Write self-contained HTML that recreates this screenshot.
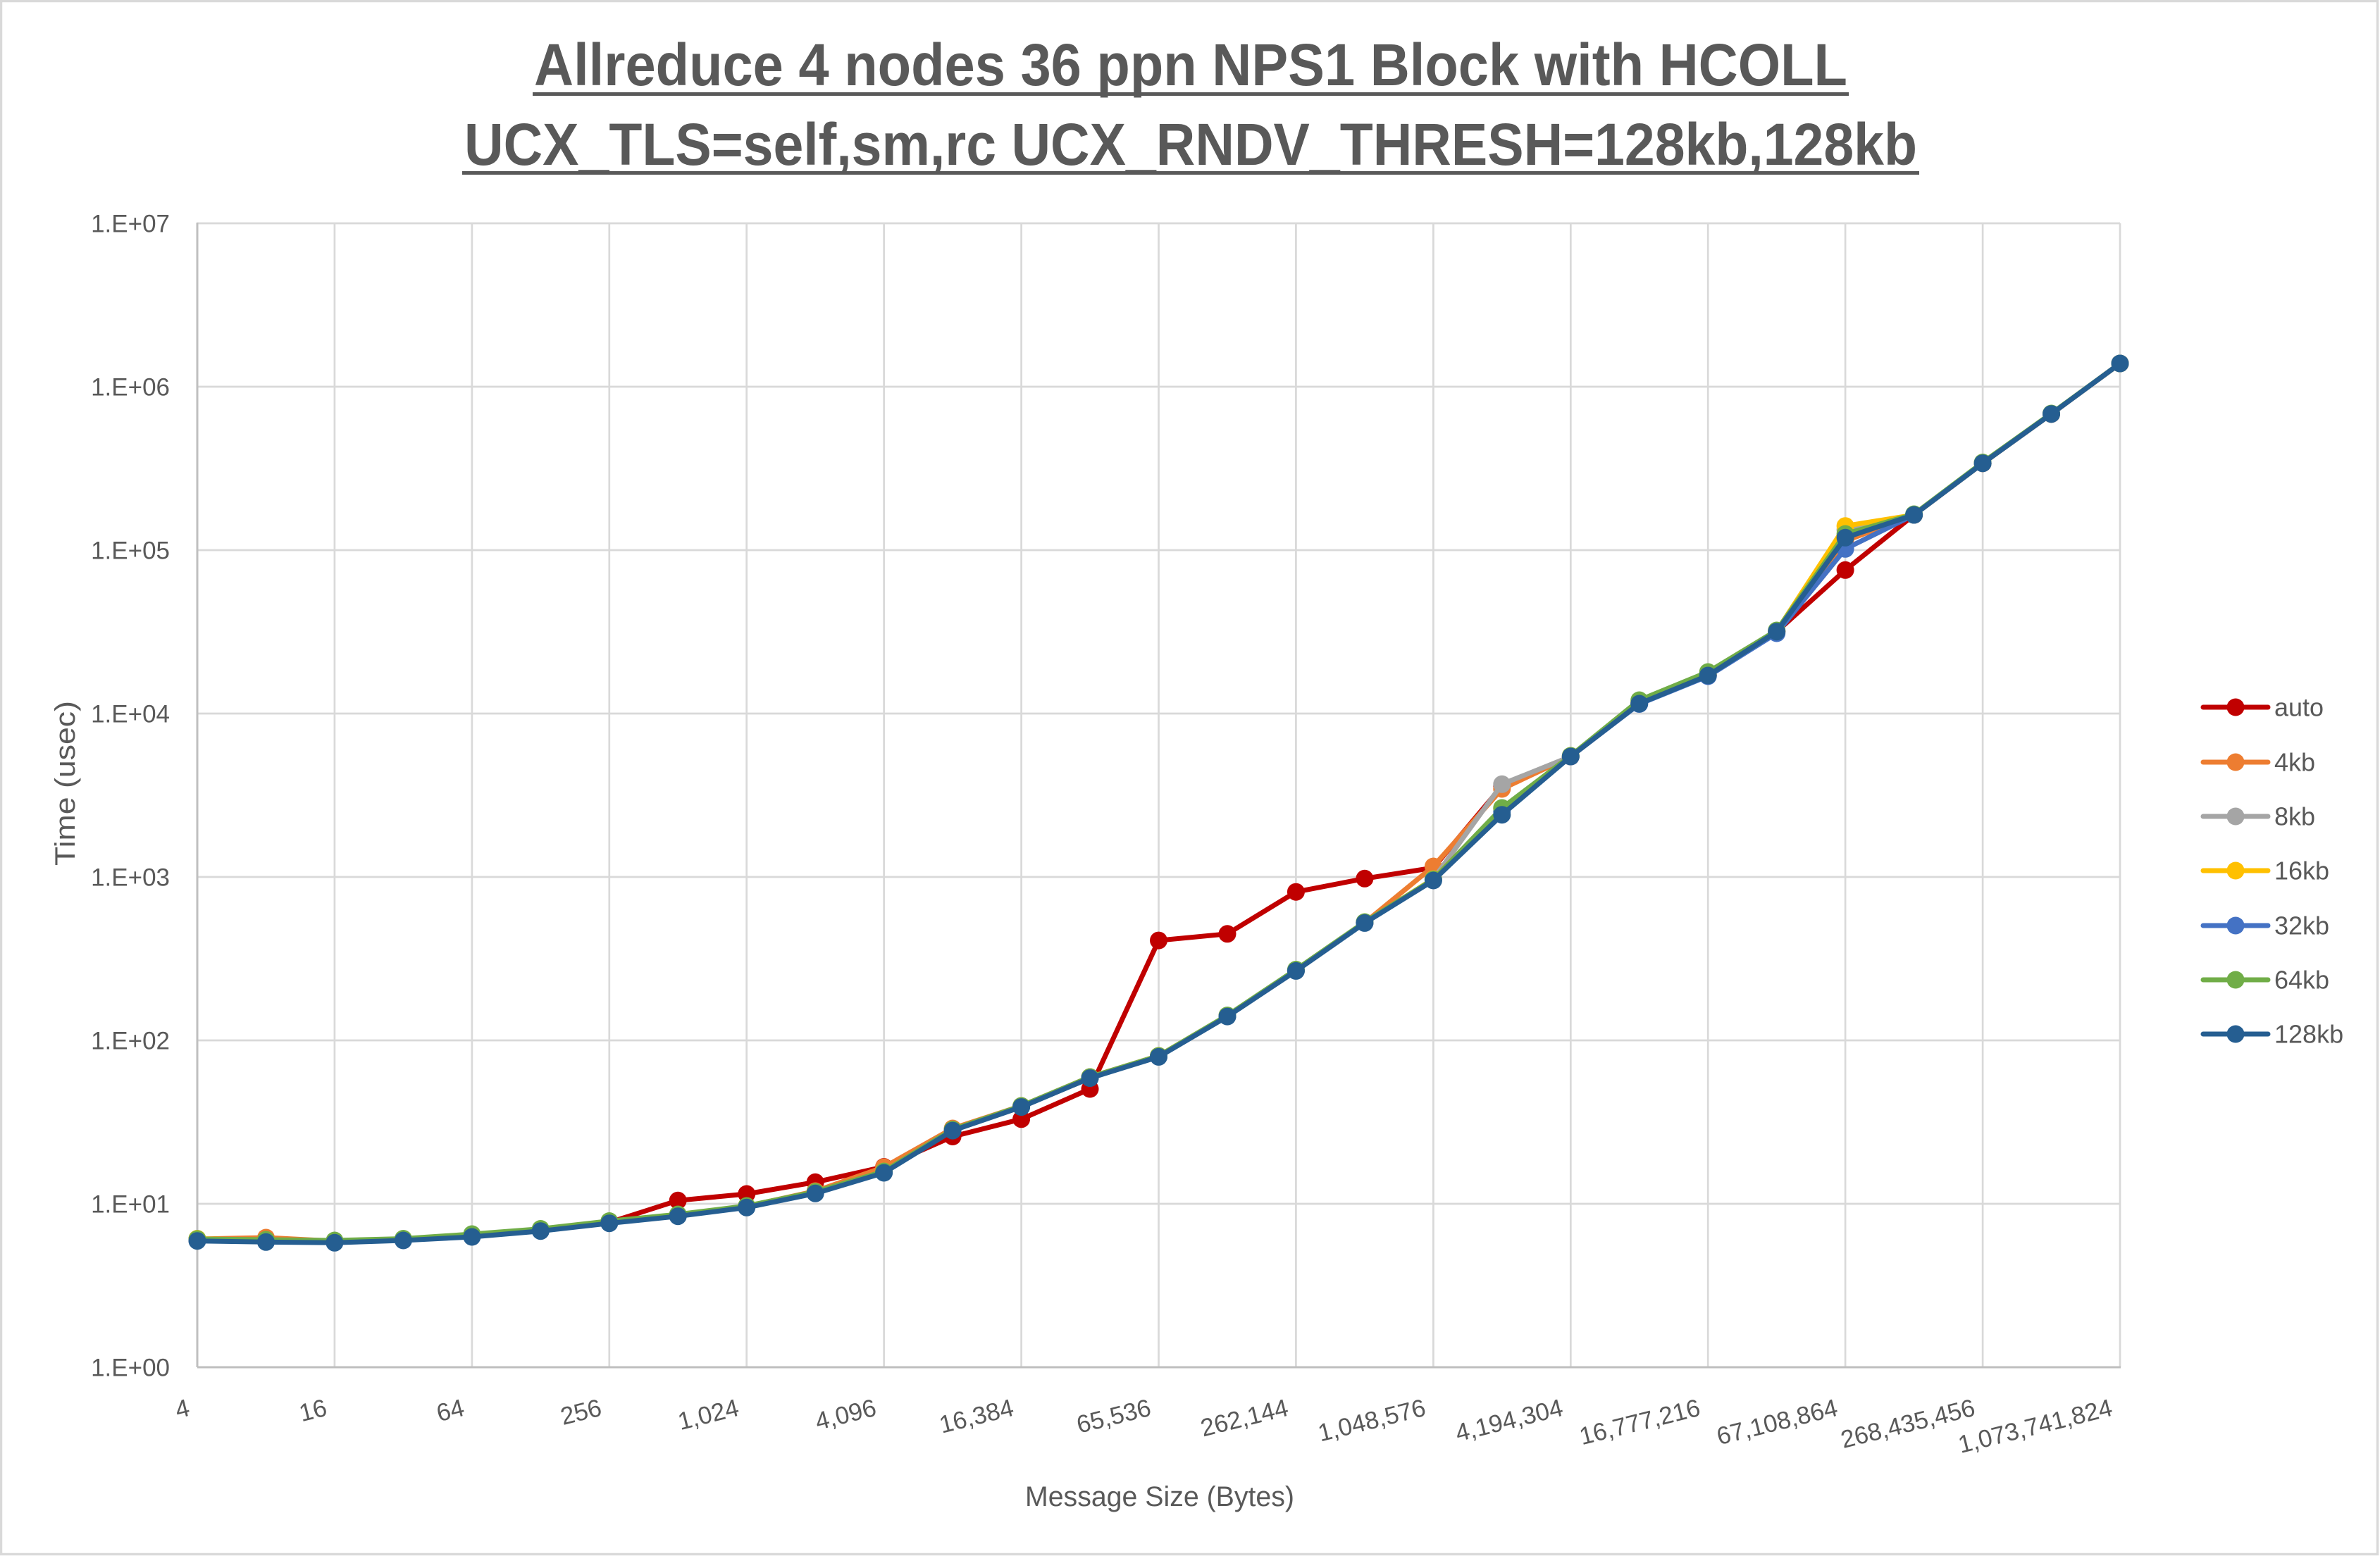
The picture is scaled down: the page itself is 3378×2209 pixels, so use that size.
<!DOCTYPE html>
<html>
<head>
<meta charset="utf-8">
<style>
  html, body { margin: 0; padding: 0; background: #ffffff; }
  svg { display: block; }
  text { font-family: "Liberation Sans", sans-serif; fill: #595959; }
</style>
</head>
<body>
<svg width="3378" height="2209" viewBox="0 0 3378 2209" xmlns="http://www.w3.org/2000/svg">
  <defs>
    <marker id="mR" markerWidth="28" markerHeight="28" refX="14" refY="14" markerUnits="userSpaceOnUse"><circle cx="14" cy="14" r="12.5" fill="#C00000"/></marker>
    <marker id="mO" markerWidth="28" markerHeight="28" refX="14" refY="14" markerUnits="userSpaceOnUse"><circle cx="14" cy="14" r="12.5" fill="#ED7D31"/></marker>
    <marker id="mG" markerWidth="28" markerHeight="28" refX="14" refY="14" markerUnits="userSpaceOnUse"><circle cx="14" cy="14" r="12.5" fill="#A5A5A5"/></marker>
    <marker id="mY" markerWidth="28" markerHeight="28" refX="14" refY="14" markerUnits="userSpaceOnUse"><circle cx="14" cy="14" r="12.5" fill="#FFC000"/></marker>
    <marker id="mB" markerWidth="28" markerHeight="28" refX="14" refY="14" markerUnits="userSpaceOnUse"><circle cx="14" cy="14" r="12.5" fill="#4472C4"/></marker>
    <marker id="mN" markerWidth="28" markerHeight="28" refX="14" refY="14" markerUnits="userSpaceOnUse"><circle cx="14" cy="14" r="12.5" fill="#70AD47"/></marker>
    <marker id="mD" markerWidth="28" markerHeight="28" refX="14" refY="14" markerUnits="userSpaceOnUse"><circle cx="14" cy="14" r="12.5" fill="#255E91"/></marker>
  </defs>

  <!-- background & chart border -->
  <rect x="0" y="0" width="3378" height="2209" fill="#ffffff"/>
  <rect x="1.5" y="1.5" width="3373" height="2205" fill="none" stroke="#D9D9D9" stroke-width="3.5"/>

  <!-- Title -->
  <text x="1690" y="121" text-anchor="middle" font-size="84" font-weight="bold" textLength="1864" lengthAdjust="spacingAndGlyphs">Allreduce 4 nodes 36 ppn NPS1 Block with HCOLL</text>
  <rect x="756" y="131" width="1868" height="5" fill="#595959"/>
  <text x="1690" y="234" text-anchor="middle" font-size="84" font-weight="bold" textLength="2062" lengthAdjust="spacingAndGlyphs">UCX_TLS=self,sm,rc UCX_RNDV_THRESH=128kb,128kb</text>
  <rect x="656" y="243" width="2068" height="5" fill="#595959"/>

  <!-- horizontal gridlines -->
  <g stroke="#D9D9D9" stroke-width="2.7">
    <line x1="280" y1="317" x2="3009" y2="317"/>
    <line x1="280" y1="549" x2="3009" y2="549"/>
    <line x1="280" y1="781" x2="3009" y2="781"/>
    <line x1="280" y1="1013" x2="3009" y2="1013"/>
    <line x1="280" y1="1245" x2="3009" y2="1245"/>
    <line x1="280" y1="1477" x2="3009" y2="1477"/>
    <line x1="280" y1="1709" x2="3009" y2="1709"/>
  </g>
  <!-- vertical gridlines -->
  <g stroke="#D9D9D9" stroke-width="2.7">
    <line x1="474.9" y1="317" x2="474.9" y2="1941"/>
    <line x1="669.9" y1="317" x2="669.9" y2="1941"/>
    <line x1="864.8" y1="317" x2="864.8" y2="1941"/>
    <line x1="1059.7" y1="317" x2="1059.7" y2="1941"/>
    <line x1="1254.6" y1="317" x2="1254.6" y2="1941"/>
    <line x1="1449.6" y1="317" x2="1449.6" y2="1941"/>
    <line x1="1644.5" y1="317" x2="1644.5" y2="1941"/>
    <line x1="1839.4" y1="317" x2="1839.4" y2="1941"/>
    <line x1="2034.4" y1="317" x2="2034.4" y2="1941"/>
    <line x1="2229.3" y1="317" x2="2229.3" y2="1941"/>
    <line x1="2424.2" y1="317" x2="2424.2" y2="1941"/>
    <line x1="2619.1" y1="317" x2="2619.1" y2="1941"/>
    <line x1="2814.1" y1="317" x2="2814.1" y2="1941"/>
    <line x1="3009" y1="317" x2="3009" y2="1941"/>
  </g>
  <!-- axes -->
  <g stroke="#BFBFBF" stroke-width="3">
    <line x1="280" y1="316" x2="280" y2="1941"/>
    <line x1="280" y1="1941" x2="3010" y2="1941"/>
  </g>

  <!-- Y tick labels -->
  <g font-size="35" text-anchor="end">
    <text x="241" y="329.5">1.E+07</text>
    <text x="241" y="561.5">1.E+06</text>
    <text x="241" y="793.5">1.E+05</text>
    <text x="241" y="1025.5">1.E+04</text>
    <text x="241" y="1257.5">1.E+03</text>
    <text x="241" y="1489.5">1.E+02</text>
    <text x="241" y="1721.5">1.E+01</text>
    <text x="241" y="1953.5">1.E+00</text>
  </g>

  <!-- X tick labels -->
  <g font-size="35" text-anchor="end">
    <text x="271" y="2009" transform="rotate(-14 271 2009)">4</text>
    <text x="465.9" y="2009" transform="rotate(-14 465.9 2009)">16</text>
    <text x="660.9" y="2009" transform="rotate(-14 660.9 2009)">64</text>
    <text x="855.8" y="2009" transform="rotate(-14 855.8 2009)">256</text>
    <text x="1050.7" y="2009" transform="rotate(-14 1050.7 2009)">1,024</text>
    <text x="1245.6" y="2009" transform="rotate(-14 1245.6 2009)">4,096</text>
    <text x="1440.6" y="2009" transform="rotate(-14 1440.6 2009)">16,384</text>
    <text x="1635.5" y="2009" transform="rotate(-14 1635.5 2009)">65,536</text>
    <text x="1830.4" y="2009" transform="rotate(-14 1830.4 2009)">262,144</text>
    <text x="2025.4" y="2009" transform="rotate(-14 2025.4 2009)">1,048,576</text>
    <text x="2220.3" y="2009" transform="rotate(-14 2220.3 2009)">4,194,304</text>
    <text x="2415.2" y="2009" transform="rotate(-14 2415.2 2009)">16,777,216</text>
    <text x="2610.1" y="2009" transform="rotate(-14 2610.1 2009)">67,108,864</text>
    <text x="2805.1" y="2009" transform="rotate(-14 2805.1 2009)">268,435,456</text>
    <text x="3000" y="2009" transform="rotate(-14 3000 2009)">1,073,741,824</text>
  </g>

  <!-- Axis titles -->
  <text x="1646" y="2138" text-anchor="middle" font-size="40" textLength="382" lengthAdjust="spacingAndGlyphs">Message Size (Bytes)</text>
  <text x="106" y="1112" text-anchor="middle" font-size="40" textLength="234" lengthAdjust="spacingAndGlyphs" transform="rotate(-90 106 1112)">Time (usec)</text>

  <!-- Series -->
  <g fill="none" stroke-width="7" stroke-linejoin="round" stroke-linecap="round">
    <polyline stroke="#C00000" marker-start="url(#mR)" marker-mid="url(#mR)" marker-end="url(#mR)"
      points="280,1760 377.5,1762 474.9,1763 572.4,1760 669.9,1755 767.3,1746.5 864.8,1735.5 962.2,1704.3 1059.7,1695 1157.2,1678.3 1254.6,1656.5 1352.1,1613.5 1449.6,1588.8 1547,1546 1644.5,1335.1 1742,1325.8 1839.4,1266.2 1936.9,1247.3 2034.4,1232 2131.8,1116 2229.3,1074 2326.7,999 2424.2,959 2521.7,896.7 2619.1,809.3 2716.6,731 2814.1,657.7 2911.5,587.7 3009,516"/>
    <polyline stroke="#ED7D31" marker-start="url(#mO)" marker-mid="url(#mO)" marker-end="url(#mO)"
      points="280,1759 377.5,1757 474.9,1762 572.4,1759.5 669.9,1753.5 767.3,1746 864.8,1735 962.2,1725 1059.7,1712.5 1157.2,1691 1254.6,1657 1352.1,1602 1449.6,1570 1547,1529 1644.5,1499 1742,1442 1839.4,1377.5 1936.9,1310 2034.4,1230 2131.8,1120 2229.3,1074 2326.7,998 2424.2,958 2521.7,896 2619.1,768 2716.6,731 2814.1,657.7 2911.5,587.7 3009,516"/>
    <polyline stroke="#A5A5A5" marker-start="url(#mG)" marker-mid="url(#mG)" marker-end="url(#mG)"
      points="280,1760 377.5,1761.5 474.9,1762.5 572.4,1760 669.9,1754.5 767.3,1746.5 864.8,1735.5 962.2,1725.5 1059.7,1713 1157.2,1693 1254.6,1663 1352.1,1604 1449.6,1571 1547,1530 1644.5,1499.5 1742,1442.5 1839.4,1378 1936.9,1310 2034.4,1248 2131.8,1113.3 2229.3,1074 2326.7,998 2424.2,958 2521.7,896 2619.1,752 2716.6,731 2814.1,657.7 2911.5,587.7 3009,516"/>
    <polyline stroke="#FFC000" marker-start="url(#mY)" marker-mid="url(#mY)" marker-end="url(#mY)"
      points="280,1758.5 377.5,1761 474.9,1762 572.4,1759.5 669.9,1753.5 767.3,1745 864.8,1735 962.2,1725 1059.7,1712.5 1157.2,1692.5 1254.6,1663 1352.1,1604 1449.6,1570.5 1547,1529.5 1644.5,1499 1742,1442 1839.4,1377.5 1936.9,1309.5 2034.4,1248 2131.8,1148 2229.3,1073 2326.7,996 2424.2,957 2521.7,896 2619.1,746.7 2716.6,731 2814.1,657.7 2911.5,587.7 3009,516"/>
    <polyline stroke="#4472C4" marker-start="url(#mB)" marker-mid="url(#mB)" marker-end="url(#mB)"
      points="280,1761 377.5,1762.5 474.9,1763.5 572.4,1760.5 669.9,1755 767.3,1747 864.8,1736 962.2,1726 1059.7,1713.5 1157.2,1693.5 1254.6,1664 1352.1,1604.5 1449.6,1571 1547,1530 1644.5,1500 1742,1442.5 1839.4,1378 1936.9,1310 2034.4,1249 2131.8,1152 2229.3,1074 2326.7,999.5 2424.2,960 2521.7,899 2619.1,779.3 2716.6,731 2814.1,657.7 2911.5,587.7 3009,516"/>
    <polyline stroke="#70AD47" marker-start="url(#mN)" marker-mid="url(#mN)" marker-end="url(#mN)"
      points="280,1759 377.5,1760 474.9,1761 572.4,1758.5 669.9,1752 767.3,1744.5 864.8,1733.5 962.2,1724 1059.7,1712 1157.2,1692 1254.6,1663 1352.1,1603.5 1449.6,1570 1547,1529 1644.5,1499 1742,1441.5 1839.4,1376.5 1936.9,1309 2034.4,1248.5 2131.8,1147 2229.3,1073 2326.7,994 2424.2,954 2521.7,895 2619.1,758 2716.6,730 2814.1,656.5 2911.5,587 3009,516"/>
    <polyline stroke="#255E91" marker-start="url(#mD)" marker-mid="url(#mD)" marker-end="url(#mD)"
      points="280,1761.7 377.5,1763.3 474.9,1764.3 572.4,1761 669.9,1756 767.3,1747.7 864.8,1736.7 962.2,1726.7 1059.7,1714.3 1157.2,1694.3 1254.6,1665 1352.1,1605.1 1449.6,1571.6 1547,1530.6 1644.5,1500.4 1742,1443.1 1839.4,1378.4 1936.9,1310.4 2034.4,1250 2131.8,1156.7 2229.3,1074 2326.7,999 2424.2,959 2521.7,896.7 2619.1,763.3 2716.6,731 2814.1,657.7 2911.5,587.7 3009,516"/>
  </g>

  <!-- Legend -->
  <g stroke-width="7" stroke-linecap="round">
    <line x1="3127" y1="1004" x2="3219" y2="1004" stroke="#C00000"/>
    <line x1="3127" y1="1082" x2="3219" y2="1082" stroke="#ED7D31"/>
    <line x1="3127" y1="1159" x2="3219" y2="1159" stroke="#A5A5A5"/>
    <line x1="3127" y1="1236" x2="3219" y2="1236" stroke="#FFC000"/>
    <line x1="3127" y1="1314" x2="3219" y2="1314" stroke="#4472C4"/>
    <line x1="3127" y1="1391" x2="3219" y2="1391" stroke="#70AD47"/>
    <line x1="3127" y1="1468" x2="3219" y2="1468" stroke="#255E91"/>
  </g>
  <g>
    <circle cx="3173" cy="1004" r="12.5" fill="#C00000"/>
    <circle cx="3173" cy="1082" r="12.5" fill="#ED7D31"/>
    <circle cx="3173" cy="1159" r="12.5" fill="#A5A5A5"/>
    <circle cx="3173" cy="1236" r="12.5" fill="#FFC000"/>
    <circle cx="3173" cy="1314" r="12.5" fill="#4472C4"/>
    <circle cx="3173" cy="1391" r="12.5" fill="#70AD47"/>
    <circle cx="3173" cy="1468" r="12.5" fill="#255E91"/>
  </g>
  <g font-size="36">
    <text x="3228" y="1016.5">auto</text>
    <text x="3228" y="1094.5">4kb</text>
    <text x="3228" y="1171.5">8kb</text>
    <text x="3228" y="1248.5">16kb</text>
    <text x="3228" y="1326.5">32kb</text>
    <text x="3228" y="1403.5">64kb</text>
    <text x="3228" y="1480.5">128kb</text>
  </g>
</svg>
</body>
</html>
